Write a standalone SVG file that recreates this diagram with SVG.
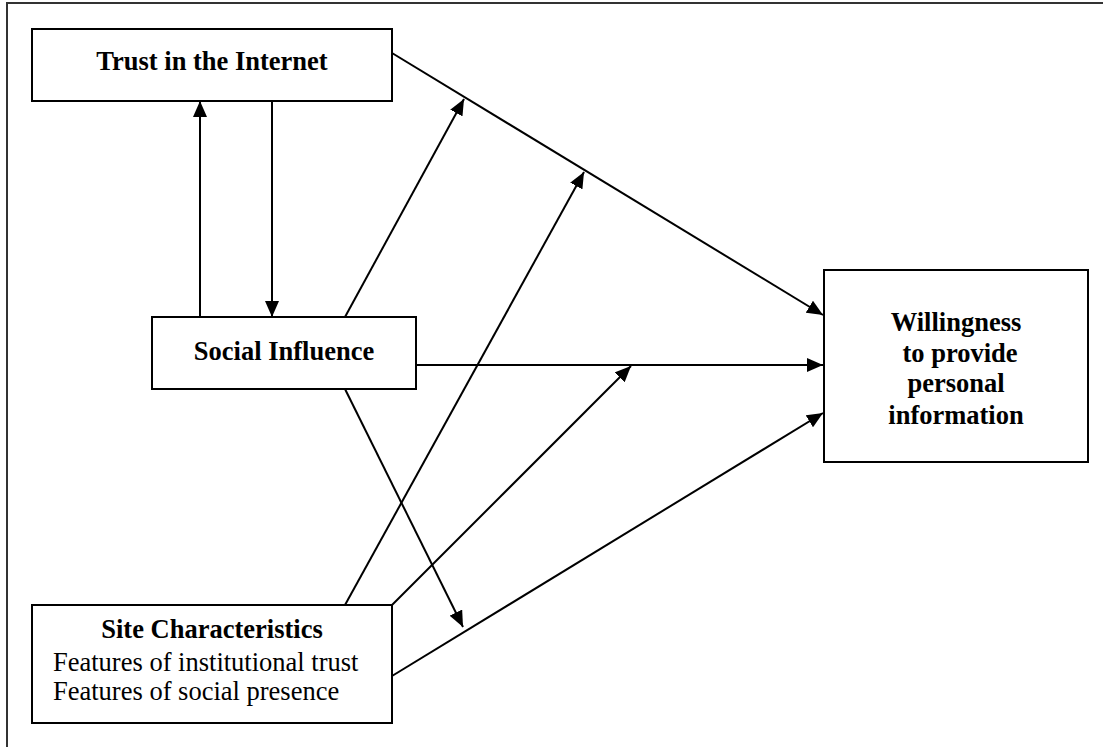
<svg xmlns="http://www.w3.org/2000/svg" width="1103" height="747" viewBox="0 0 1103 747">
<style>
.box{fill:#fff;stroke:#000;stroke-width:2}
.ln{fill:none;stroke:#000;stroke-width:2}
.t{font-family:"Liberation Serif","Times New Roman",serif;font-size:26.5px;fill:#000}
.b{font-weight:bold}
.c{text-anchor:middle}
</style>
<defs>
<marker id="ah" markerUnits="userSpaceOnUse" markerWidth="16" markerHeight="14" refX="16" refY="7" orient="auto" viewBox="0 0 16 14">
<path d="M0,0 L16,7 L0,14 z" fill="#000"/>
</marker>
</defs>
<rect width="1103" height="747" fill="#fff"/>
<path d="M7,747 V3 H1103" fill="none" stroke="#333" stroke-width="2"/>
<g id="connectors">
<line class="ln" x1="392" y1="53" x2="823" y2="315" marker-end="url(#ah)"/>
<line class="ln" x1="345" y1="317" x2="464" y2="99" marker-end="url(#ah)"/>
<line class="ln" x1="345" y1="605" x2="584" y2="172" marker-end="url(#ah)"/>
<line class="ln" x1="416" y1="365" x2="823" y2="365" marker-end="url(#ah)"/>
<line class="ln" x1="392" y1="605" x2="631" y2="366" marker-end="url(#ah)"/>
<line class="ln" x1="345" y1="389" x2="463" y2="627" marker-end="url(#ah)"/>
<line class="ln" x1="392" y1="676" x2="823" y2="413" marker-end="url(#ah)"/>
<line class="ln" x1="200" y1="317" x2="200" y2="101" marker-end="url(#ah)"/>
<line class="ln" x1="272" y1="101" x2="272" y2="317" marker-end="url(#ah)"/>
</g>
<g id="trust">
<rect class="box" x="32" y="29" width="360" height="72"/>
<text class="t b c" x="212" y="70">Trust in the Internet</text>
</g>
<g id="social">
<rect class="box" x="152" y="317" width="264" height="72"/>
<text class="t b c" x="284" y="360">Social Influence</text>
</g>
<g id="site">
<rect class="box" x="32" y="605" width="360" height="118"/>
<text class="t b c" x="212" y="638">Site Characteristics</text>
<text class="t" x="53" y="671">Features of institutional trust</text>
<text class="t" x="53" y="700">Features of social presence</text>
</g>
<g id="willingness">
<rect class="box" x="824" y="270" width="264" height="192"/>
<text class="t b c" x="956" y="331">Willingness</text>
<text class="t b c" x="960" y="362">to provide</text>
<text class="t b c" x="956" y="392">personal</text>
<text class="t b c" x="956" y="424">information</text>
</g>
</svg>
